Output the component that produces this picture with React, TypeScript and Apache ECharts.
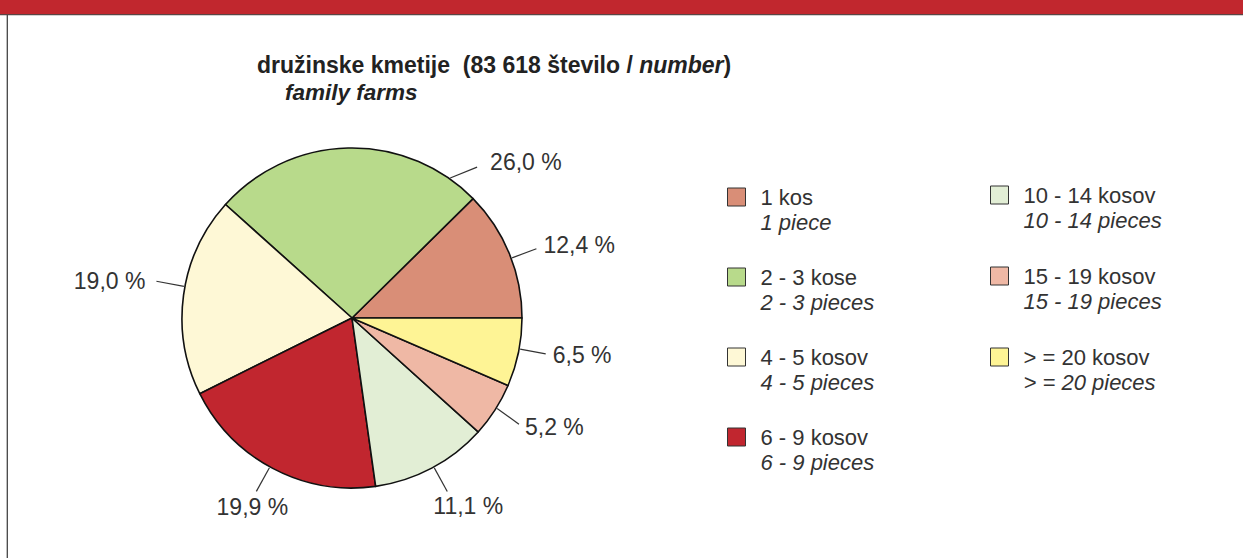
import React, { useEffect, useRef } from 'react';
import * as echarts from 'echarts';

// ---- data ----
const categories = ['1 kos', '2 - 3 kose', '4 - 5 kosov', '6 - 9 kosov', '10 - 14 kosov', '15 - 19 kosov', '> = 20 kosov'];
const categoriesEn = ['1 piece', '2 - 3 pieces', '4 - 5 pieces', '6 - 9 pieces', '10 - 14 pieces', '15 - 19 pieces', '> = 20 pieces'];
const shares = [12.4, 26.0, 19.0, 19.9, 11.1, 5.2, 6.5];
const colors = ['#d98e77', '#b8da8b', '#fef8d6', '#c1262f', '#e2eed5', '#efb8a5', '#fef495'];
const titleSl = 'družinske kmetije';
const totalText = '83 618 število / ';
const totalEn = 'number';
const titleEn = 'family farms';
const sourceText = '©SURS';

// ---- layout / style ----
const W = 1243;
const H = 558;
const CX = 352;
const CY = 318;
const R = 170;
const FONT = '"Liberation Sans", Arial, Helvetica, sans-serif';
const TXT = '#333333';

type Spec = { off: number; dir?: number; len: number; align: string; dx: number; dy: number };
const labelSpecs: Spec[] = [
  { off: -1.7, len: 26, align: 'left', dx: 7, dy: -4 },
  { off: -36.4, dir: 22, len: 29, align: 'left', dx: 13, dy: -5 },
  { off: -2.9, len: 28, align: 'right', dx: -11, dy: 0 },
  { off: -1.1, len: 27, align: 'center', dx: -4, dy: 16 },
  { off: 0.8, len: 27, align: 'center', dx: 21, dy: 14 },
  { off: 0.8, dir: 324, len: 27, align: 'left', dx: 6, dy: 3 },
  { off: 1.2, len: 26, align: 'left', dx: 7, dy: 1 },
];

const fmt = (v: number) => v.toFixed(1).replace('.', ',') + ' %';

export default function App() {
  const ref = useRef<HTMLDivElement>(null);
  useEffect(() => {
    if (!ref.current) return;
    const chart = echarts.init(ref.current, undefined, { renderer: 'svg' });
    const total = shares.reduce((a, b) => a + b, 0);
    const mids: number[] = [];
    let acc = 0;
    shares.forEach((v) => {
      mids.push(((acc + v / 2) / total) * 360);
      acc += v;
    });

    const legendFmt = (name: string) => {
      const i = categories.indexOf(name);
      return `{a|${name}}\n{b|${categoriesEn[i]}}`;
    };
    const legendBase = {
      orient: 'vertical',
      icon: 'rect',
      itemWidth: 18,
      itemHeight: 18,
      padding: 0,
      selectedMode: false,
      itemStyle: { borderColor: '#333', borderWidth: 1 },
      formatter: legendFmt,
      textStyle: {
        padding: [25, 0, 0, 10],
        fontFamily: FONT,
        rich: {
          a: { fontSize: 22, lineHeight: 25, color: TXT, fontFamily: FONT },
          b: { fontSize: 22, lineHeight: 25, color: TXT, fontStyle: 'italic', fontFamily: FONT },
        },
      },
    };

    chart.setOption({
      animation: false,
      backgroundColor: '#ffffff',
      title: [
        {
          text: `{b|${titleSl}  (${totalText}}{bi|${totalEn}}{b|)}`,
          left: 257,
          top: 53,
          padding: 0,
          textStyle: {
            rich: {
              b: { fontSize: 23, fontWeight: 'bold', color: '#222', fontFamily: FONT, lineHeight: 24 },
              bi: { fontSize: 23, fontWeight: 'bold', fontStyle: 'italic', color: '#222', fontFamily: FONT, lineHeight: 24 },
            },
          },
        },
        {
          text: titleEn,
          left: 285,
          top: 80,
          padding: 0,
          textStyle: { fontSize: 22.5, fontWeight: 'bold', fontStyle: 'italic', color: '#222', fontFamily: FONT, lineHeight: 24 },
        },
      ],
      legend: [
        { ...legendBase, data: categories.slice(0, 4), left: 727, top: 186, itemGap: 33 },
        { ...legendBase, data: categories.slice(4), left: 990, top: 184, itemGap: 34 },
      ],
      graphic: [
        { type: 'rect', shape: { x: 0, y: 0, width: W, height: 14 }, style: { fill: '#c1272e' }, silent: true },
        { type: 'line', shape: { x1: 0, y1: 14.6, x2: W, y2: 14.6 }, style: { stroke: '#5b4444', lineWidth: 1.4 }, silent: true },
        { type: 'line', shape: { x1: 7.3, y1: 15, x2: 7.3, y2: H }, style: { stroke: '#444444', lineWidth: 1.3 }, silent: true },
        {
          type: 'text',
          x: CX + R - 3,
          y: CY - 10,
          style: { text: sourceText, fontSize: 11, fill: '#555', font: `11px ${FONT}`, align: 'right', verticalAlign: 'middle' },
          silent: true,
        },
      ],
      series: [
        {
          type: 'pie',
          center: [CX, CY],
          radius: R,
          startAngle: 0,
          clockwise: false,
          avoidLabelOverlap: false,
          silent: true,
          itemStyle: { borderColor: '#111', borderWidth: 1.6 },
          label: {
            show: true,
            formatter: (p: any) => fmt(p.value),
            fontSize: 23,
            color: TXT,
            fontFamily: FONT,
          },
          labelLine: { show: true, length: 26, length2: 0, lineStyle: { color: '#333', width: 1.2 } },
          labelLayout: (p: any) => {
            const s = labelSpecs[p.dataIndex];
            let mid = mids[p.dataIndex];
            const pts = p.labelLinePoints;
            if (pts && pts[0]) {
              mid = (Math.atan2(CY - pts[0][1], pts[0][0] - CX) * 180) / Math.PI;
            }
            const ang = mid + s.off;
            const a = (ang * Math.PI) / 180;
            const sx = CX + (R + 1) * Math.cos(a);
            const sy = CY - (R + 1) * Math.sin(a);
            const d = (((s.dir !== undefined ? s.dir : ang)) * Math.PI) / 180;
            const ex = sx + s.len * Math.cos(d);
            const ey = sy - s.len * Math.sin(d);
            return {
              x: ex + s.dx,
              y: ey + s.dy,
              align: s.align,
              verticalAlign: 'middle',
              labelLinePoints: [[sx, sy], [ex, ey], [ex, ey]],
            };
          },
          data: categories.map((name, i) => ({ name, value: shares[i], itemStyle: { color: colors[i] } })),
        },
      ],
    });
    return () => chart.dispose();
  }, []);
  return <div ref={ref} style={{ position: 'absolute', left: 0, top: 0, width: W, height: H }} />;
}
